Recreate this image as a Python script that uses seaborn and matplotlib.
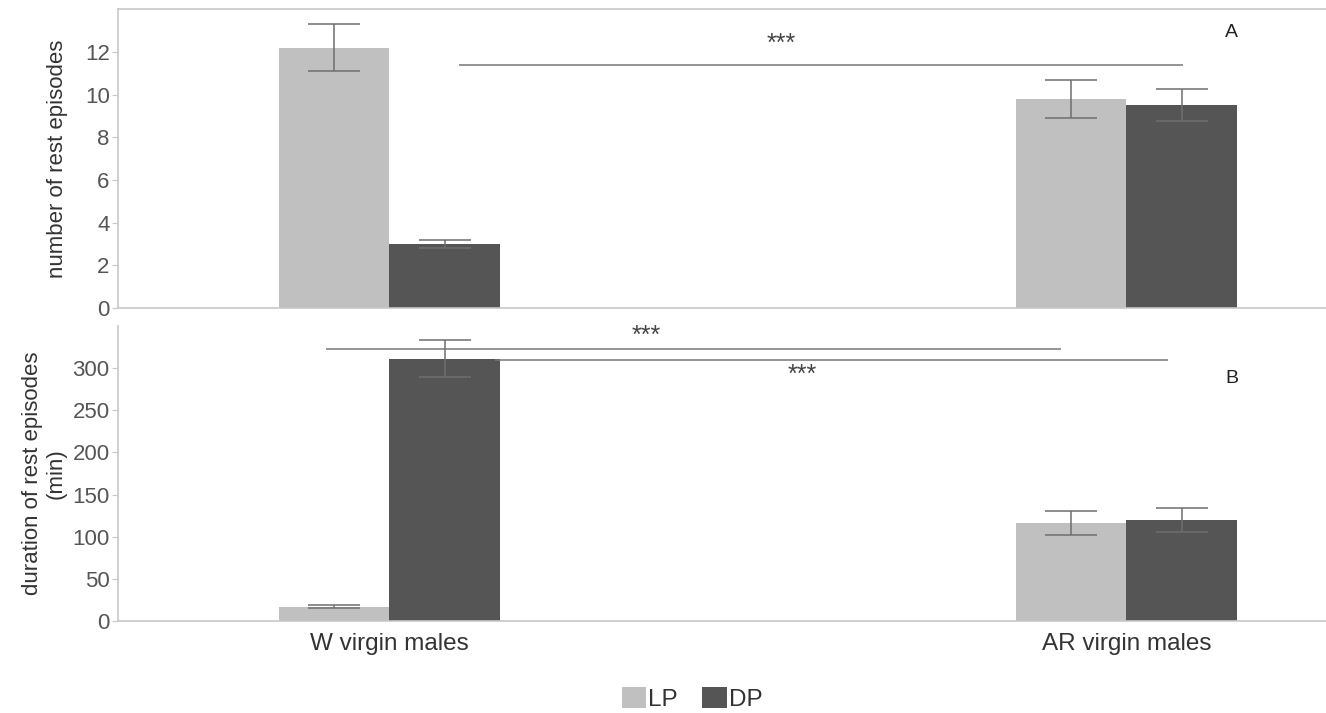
import pandas as pd
import numpy as np
import matplotlib.pyplot as plt
import seaborn as sns
from matplotlib.patches import Patch

# datos
grupos = ["W virgin males", "AR virgin males"]
periodos = ["LP", "DP"]

n_lp = [12.2, 9.8]
n_dp = [3.0, 9.5]
n_lp_err = [1.1, 0.9]
n_dp_err = [0.2, 0.75]

d_lp = [17, 116]
d_dp = [311, 120]
d_lp_err = [2, 14]
d_dp_err = [22, 14]

colores = {"LP": "#c0c0c0", "DP": "#555555"}

df = pd.DataFrame({
    "grupo": grupos * 2,
    "periodo": ["LP"] * 2 + ["DP"] * 2,
    "numero": n_lp + n_dp,
    "numero_err": n_lp_err + n_dp_err,
    "duracion": d_lp + d_dp,
    "duracion_err": d_lp_err + d_dp_err,
})

sns.set_style("white")
plt.rcParams["font.family"] = ["Liberation Sans", "DejaVu Sans"]

fig = plt.figure(figsize=(13.26, 7.13), dpi=100)
ax1 = fig.add_axes([0.089, 0.568, 0.911, 0.419])
ax2 = fig.add_axes([0.089, 0.129, 0.911, 0.414])

gris = "#c8c8c8"
texto = "#555555"


def panel(ax, col, err_col):
    sns.barplot(data=df, x="grupo", y=col, hue="periodo", hue_order=periodos,
                order=grupos, palette=colores, width=0.3, errorbar=None,
                edgecolor="none", legend=False, ax=ax)
    # barras de error a partir de las barras dibujadas
    for cont, per in zip(ax.containers, periodos):
        sub = df[df["periodo"] == per].set_index("grupo").loc[grupos]
        xs = [p.get_x() + p.get_width() / 2 for p in cont.patches]
        ax.errorbar(xs, sub[col], yerr=sub[err_col], fmt="none",
                    ecolor="#6e6e6e", elinewidth=1.1, capsize=19, capthick=1.1)
    ax.set_xlim(-0.368, 1.271)
    ax.set_xlabel("")
    for s in ["left", "bottom", "top", "right"]:
        ax.spines[s].set_color(gris)
        ax.spines[s].set_linewidth(1.2)
    ax.spines["right"].set_visible(False)
    ax.tick_params(axis="y", left=True, length=4, color=gris, labelsize=16,
                   labelcolor=texto, pad=2)
    ax.tick_params(axis="x", bottom=False)


panel(ax1, "numero", "numero_err")
ax1.set_ylim(0, 14)
ax1.set_yticks([0, 2, 4, 6, 8, 10, 12])
ax1.set_xticklabels([])
ax1.set_ylabel("number of rest episodes", fontsize=16, color="#333333", labelpad=12)
ax1.hlines(11.4, 0.095, 1.077, color="#777777", lw=1.1)
ax1.text(0.532, 11.8, "***", ha="center", va="bottom", fontsize=18, color="#444444")
ax1.text(1.143, 12.9, "A", ha="center", va="center", fontsize=14, color="#222222")

panel(ax2, "duracion", "duracion_err")
ax2.set_ylim(0, 350)
ax2.set_yticks([0, 50, 100, 150, 200, 250, 300])
ax2.spines["top"].set_visible(False)
ax2.set_ylabel("duration of rest episodes\n(min)", fontsize=16, color="#333333",
               linespacing=1.15, labelpad=4)
ax2.tick_params(axis="x", labelsize=17.5, labelcolor="#333333", pad=5)
ax2.hlines(322, -0.086, 0.911, color="#777777", lw=1.1)
ax2.hlines(310, 0.144, 1.056, color="#777777", lw=1.1)
ax2.text(0.349, 324, "***", ha="center", va="bottom", fontsize=18, color="#444444")
ax2.text(0.561, 292, "***", ha="center", va="center", fontsize=18, color="#444444")
ax2.text(1.143, 287, "B", ha="center", va="center", fontsize=14, color="#222222")

handles = [Patch(facecolor=colores[p], edgecolor="none", label=p) for p in periodos]
fig.legend(handles=handles, loc="center", bbox_to_anchor=(0.522, 0.02), ncol=2,
           frameon=False, fontsize=17.5, handlelength=1.0, handleheight=1.0,
           handletextpad=0.1, columnspacing=1.0, labelcolor="#333333",
           borderpad=0.1)

fig.savefig("out.png", dpi=100)
plt.close()
